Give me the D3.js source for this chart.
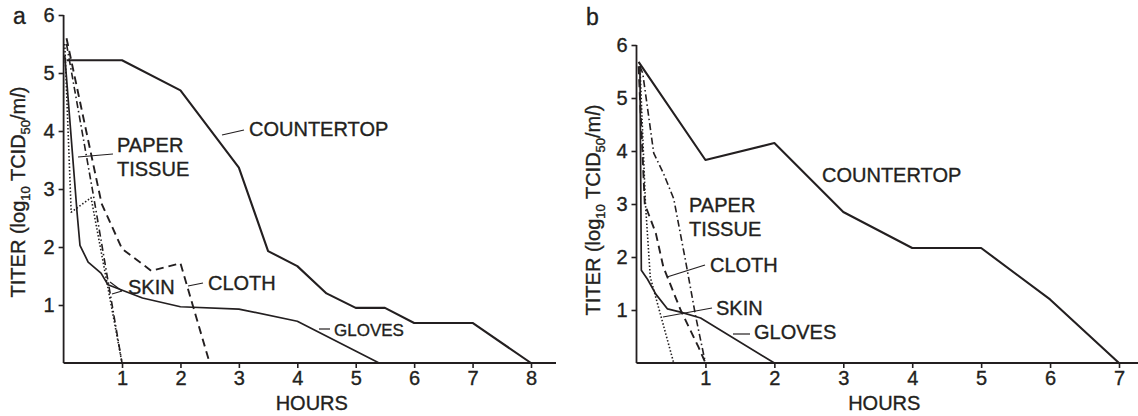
<!DOCTYPE html>
<html>
<head>
<meta charset="utf-8">
<script src="https://cdn.jsdelivr.net/npm/d3@7"></script>
<style>
  body { margin: 0; background: #fff; }
  text { font-family: "Liberation Sans", Arial, sans-serif; fill: #231f20; stroke: #231f20; stroke-width: 0.35px; }
</style>
</head>
<body>
<script>
// hours vs titer (log10 TCID50/ml)
const countertopA = [[0.05, 5.22], [1, 5.22], [2, 4.7], [3, 3.37], [3.5, 1.93], [4, 1.67], [4.5, 1.2], [5, 0.95], [5.5, 0.95], [6, 0.69], [7, 0.69], [8, 0]];
const glovesA = [[0.02, 5.3], [0.23, 2.6], [0.28, 2.03], [0.42, 1.74], [0.64, 1.55], [0.76, 1.35], [1.35, 1.12], [2, 0.97], [3, 0.93], [4, 0.72], [5.4, 0]];
const clothA = [[0.05, 5.6], [0.65, 2.75], [1, 1.97], [1.5, 1.59], [2, 1.72], [2.5, 0]];
const paperA = [[0.05, 5.5], [0.5, 2.95], [1, 0]];
const skinA = [[0.02, 5.5], [0.13, 2.6], [0.47, 2.85], [1, 0]];

const countertopB = [[0.03, 5.68], [1, 3.83], [2, 4.15], [3, 2.85], [4, 2.17], [5, 2.17], [6, 1.2], [7, 0]];
const glovesB = [[0.05, 5.6], [0.07, 1.75], [0.16, 1.58], [0.28, 1.3], [0.45, 1.02], [0.64, 0.96], [0.93, 0.85], [2, 0]];
const clothB = [[0.03, 5.6], [0.12, 3.0], [0.28, 2.45], [0.39, 1.81], [0.64, 1.0], [0.9, 0.3], [1, 0]];
const paperB = [[0.05, 5.6], [0.09, 5.47], [0.25, 3.96], [0.39, 3.58], [0.54, 3.1], [0.71, 1.94], [0.86, 0.87], [1, 0]];
const skinB = [[0.05, 5.6], [0.13, 3.0], [0.2, 1.62], [0.54, 0]];

const yTicks = [1, 2, 3, 4, 5, 6];
const xTicksA = [1, 2, 3, 4, 5, 6, 7, 8];
const xTicksB = [1, 2, 3, 4, 5, 6, 7];

const ink = "#231f20";
const styles = {
  countertop: { w: 2.1, dash: null },
  gloves: { w: 1.7, dash: null },
  cloth: { w: 1.9, dash: "8,5" },
  paper: { w: 1.6, dash: "7,3,1.5,3" },
  skin: { w: 1.6, dash: "1.5,2" }
};

const svg = d3.select("body").append("svg")
  .attr("width", 1138)
  .attr("height", 416);

function panel(cfg) {
  const x = d3.scaleLinear().domain([0, cfg.xMax]).range([cfg.x0, cfg.x1]);
  const y = d3.scaleLinear().domain([0, 6]).range([363, cfg.yTop]);
  const g = svg.append("g");

  // axes
  const xa = g.append("g").attr("transform", "translate(0,363)")
    .call(d3.axisBottom(x).tickValues(cfg.xTicks).tickSize(5).tickPadding(3).tickFormat(d3.format("d")));
  xa.select(".domain").remove();
  g.append("line").attr("x1", cfg.x0).attr("x2", cfg.axisEnd).attr("y1", 363).attr("y2", 363)
    .attr("stroke", ink).attr("stroke-width", 1.8);
  const ya = g.append("g").attr("transform", `translate(${cfg.x0},0)`)
    .call(d3.axisLeft(y).tickValues(yTicks).tickSize(5).tickPadding(4).tickFormat(d3.format("d")));
  ya.select(".domain").remove();
  g.append("line").attr("x1", cfg.x0).attr("x2", cfg.x0).attr("y1", 363).attr("y2", y(6))
    .attr("stroke", ink).attr("stroke-width", 1.8);
  g.selectAll(".tick line").attr("stroke", ink).attr("stroke-width", 1.6);
  g.selectAll(".tick text").attr("font-size", 20).attr("fill", ink)
    .style("font-family", "'Liberation Sans', Arial, sans-serif");

  // series
  const line = d3.line().x(d => x(d[0])).y(d => y(d[1]));
  cfg.series.forEach(s => {
    const st = styles[s.key];
    g.append("path")
      .datum(s.data)
      .attr("d", line)
      .attr("fill", "none")
      .attr("stroke", ink)
      .attr("stroke-width", st.w)
      .attr("stroke-linejoin", "round")
      .attr("stroke-dasharray", st.dash);
  });

  // labels and leaders
  cfg.labels.forEach(l => {
    const t = g.append("text").attr("x", l.x).attr("y", l.y).attr("font-size", l.size || 20);
    l.text.split("\n").forEach((s, i) => {
      t.append("tspan").attr("x", l.x).attr("dy", i ? 24 : 0).text(s);
    });
  });
  cfg.leaders.forEach(p => {
    g.append("line").attr("x1", p[0]).attr("y1", p[1]).attr("x2", p[2]).attr("y2", p[3])
      .attr("stroke", ink).attr("stroke-width", 1.2);
  });

  // axis titles
  g.append("text").attr("x", (cfg.x0 + cfg.axisEnd) / 2 + cfg.hoursShift).attr("y", 410)
    .attr("text-anchor", "middle").attr("font-size", 20).text("HOURS");
  const yt = g.append("text")
    .attr("transform", `translate(${cfg.titleX},${cfg.titleY}) rotate(-90)`)
    .attr("text-anchor", "middle").attr("font-size", 20);
  yt.append("tspan").text("TITER (log");
  yt.append("tspan").attr("font-size", 13).attr("dy", 5).text("10");
  yt.append("tspan").attr("dy", -5).text(" TCID");
  yt.append("tspan").attr("font-size", 13).attr("dy", 5).text("50");
  yt.append("tspan").attr("dy", -5).text("/m");
  yt.append("tspan").attr("font-style", "italic").text("l");
  yt.append("tspan").text(")");

  g.append("text").attr("x", cfg.letterX).attr("y", cfg.letterY).attr("font-size", 23).text(cfg.letter);
}

panel({
  letter: "a", letterX: 13, letterY: 24,
  x0: 63.6, x1: 531, xMax: 8, yTop: 15, axisEnd: 556, xTicks: xTicksA,
  titleX: 25, titleY: 192, hoursShift: 2,
  series: [
    { key: "countertop", data: countertopA },
    { key: "gloves", data: glovesA },
    { key: "cloth", data: clothA },
    { key: "paper", data: paperA },
    { key: "skin", data: skinA }
  ],
  labels: [
    { text: "COUNTERTOP", x: 249, y: 136 },
    { text: "PAPER\nTISSUE", x: 117, y: 152 },
    { text: "SKIN", x: 128, y: 294 },
    { text: "CLOTH", x: 208, y: 290 },
    { text: "GLOVES", x: 334, y: 336, size: 17 }
  ],
  leaders: [
    [222, 135, 244, 130],
    [78, 157, 113, 154],
    [110, 282, 122, 291],
    [112, 294, 122, 291],
    [188, 286, 203, 283],
    [319, 329, 330, 329]
  ]
});

panel({
  letter: "b", letterX: 586, letterY: 25,
  x0: 636.5, x1: 1119, xMax: 7, yTop: 45, axisEnd: 1138, xTicks: xTicksB,
  titleX: 600, titleY: 210, hoursShift: -3,
  series: [
    { key: "countertop", data: countertopB },
    { key: "gloves", data: glovesB },
    { key: "cloth", data: clothB },
    { key: "paper", data: paperB },
    { key: "skin", data: skinB }
  ],
  labels: [
    { text: "COUNTERTOP", x: 822, y: 182 },
    { text: "PAPER\nTISSUE", x: 689, y: 212 },
    { text: "CLOTH", x: 710, y: 272 },
    { text: "SKIN", x: 716, y: 315 },
    { text: "GLOVES", x: 754, y: 339 }
  ],
  leaders: [
    [667, 277, 705, 265],
    [663, 317, 712, 308],
    [733, 334, 750, 334]
  ]
});
</script>
</body>
</html>
